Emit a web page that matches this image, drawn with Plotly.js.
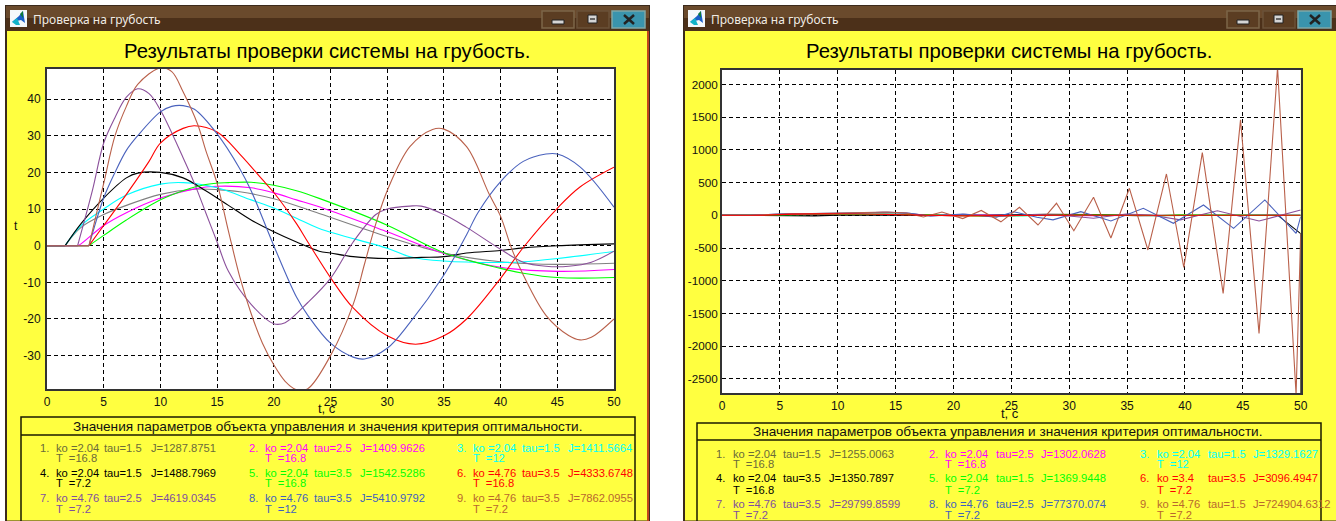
<!DOCTYPE html>
<html><head><meta charset="utf-8">
<script src="https://cdn.plot.ly/plotly-3.0.1.min.js"></script>
<style>html,body{margin:0;padding:0;background:#fff;overflow:hidden}#c{width:1336px;height:521px}</style>
</head><body><div id="c"></div>
<script>
// ---------- Left chart data ----------
const L1x=[0,1.6,3,5,7,10,13,15,17,20,24,30,35,40,45,50];
const L1y=[0,0,5,8.5,11,14,15.4,15.3,14.7,12.8,8.8,2.5,-2,-4.4,-5.1,-4.8];
const L2x=[0,2.7,3,5,7,10,13,15,18,20,22,24,30,35,40,45,50];
const L2y=[0,0,0.5,5.5,9,13,15.5,16.2,15.8,14.4,12.5,10.6,3.8,-2.1,-5.9,-7,-6.5];
const L3x=[0,1.6,3,5,7,10,12,15,18,20,22,24,30,32,35,40,42,45,50];
const L3y=[0,0,5.5,10,13.8,16.8,17.2,15.8,12.5,10.3,7.5,4.7,-0.7,-3,-4.2,-4.6,-4.4,-3.5,-1.6];
const L4x=[0,1.6,3,5,7,8,10,12,14,16,18,20,22,24,25,27,30,33,35,37,40,42,45,50];
const L4y=[0,0,6,13,18.5,19.8,20,18.5,15,11,7,3.8,1,-1.5,-2,-3,-3.5,-3.2,-3,-2,-1.3,-0.6,0,0.5];
const L5x=[0,3.7,5,7,10,12,14,16,18,20,22,24,30,35,40,42,45,50];
const L5y=[0,0,2.8,7,12.5,15,16.7,17.2,17.3,16.5,15,12.9,5.6,-1.9,-6.2,-7.5,-8.7,-8.7];
const L6x=[0,3.7,5,7,9,10,12,13,15,17,19,20,22,23,25,27,30,32.5,35,37,40,42,45,47,50];
const L6y=[0,0,5.5,14,23,28,32,32.7,31,25,18,14.5,6,1,-8.7,-17,-24.6,-26.9,-24.6,-20,-8.9,-0.5,10.2,16,21.4];
const L7x=[0,2.7,4,5,6,7,8,9,10,12,13,14,15,16,18,20,21,23,25,27,29,30,32,33,35,37,40,42,44,46,48,50];
const L7y=[0,0,15,28,35,40.5,42.8,41.5,37,24,17,9,1,-7,-16,-21.3,-21,-15.5,-8.9,1,8.5,10,10.8,10.8,8.5,5,-1,-4.5,-5.6,-5.6,-4.5,-1.5];
const L8x=[0,3.7,5,6,7,8,10,11,12,13,15,17,18,20,22,23,25,27,28,30,32,35,37,38,40,42,44,45,47,50];
const L8y=[0,0,13,20,26,30,36.5,38,38.2,37.2,30.5,21,15,0,-14,-19,-26.6,-30.4,-30.9,-28,-21,-8,3,9,17.5,23,25,25,21.5,10.5];
const L9x=[0,3.7,4,5,6,7,8,10,11,12,13.3,14,15,16,17,18,19,20,21,22,23,25,27,28,29,30,32,34,35,37,39,40,41,42,44,46,47,48,50];
const L9y=[0,0,4,17,30,38,44,48.5,47.5,42,33,26,17,4,-8.5,-18.5,-26.6,-32.5,-37,-39.3,-39,-30,-16,-5,6,15,27,31.7,31.8,27,14,8,-1,-8,-19,-24.5,-25.7,-25,-20];
// ---------- Right chart data ----------
const R1x=[0,2.4,5,8,11,14,17,20,23,26,29,32,35,38,41,44,47,50];
const R1y=[0,0,8,14,15,14,9,4,1,-2,-3,-3,-3,-2,-1,-1,0,0];
const R2x=[0,3,5,8,11,14,17,20,23,26,29,32,35,38,41,44,47,50];
const R2y=[0,0,6,12,15,16,12,6,2,-3,-4,-4,-3,-2,-1,0,0,0];
const R3x=[0,2.4,5,8,11,14,17,20,23,26,29,32,35,38,41,44,47,50];
const R3y=[0,0,10,16,17,15,8,0,-6,-6,-2,3,3,0,-2,-2,0,1];
const R4x=[0,5,8,10,14,17,20,25.5,28,32,36,40,44,48,50,50];
const R4y=[0,-6,-8,0,8,4,-6,15,15,10,-4,-3,2,2,-280,-2717];
const R5x=[0,2.4,5,8,11,14,17,20,23,26,29,32,35,38,39.5,41,44,47,50];
const R5y=[0,0,6,12,18,20,10,-5,-14,-5,8,8,0,-4,6,6,-4,-2,0];
const R7x=[0,2.4,5.5,9,13.9,16,18,21,24.3,27,29,32.1,34.9,37,39.6,42.8,46.4,50];
const R7y=[0,0,25,20,45,35,-10,15,-15,10,5,-45,20,5,-70,70,-87,80];
const R8x=[0,2.4,5,10.4,14.5,16.2,18,20.8,23.7,25.2,27.2,28.6,31,33.6,36.4,39,41.6,44.2,46.9,49.6,50];
const R8y=[0,0,20,30,45,30,-10,20,-30,55,-30,-70,56,-87,107,-122,158,-200,235,-275,-20];
const R9x=[0,2.4,5,10.4,12.9,14.3,15.9,17.4,19,20.8,22.4,24.1,25.7,27.3,28.9,30.4,32.1,33.6,35.2,36.8,38.4,39.9,41.5,43.3,44.8,46.4,48,49.6,50];
const R9y=[0,0,15,30,40,50,35,-25,50,-50,75,-100,122,-148,184,-235,275,-347,413,-530,632,-796,959,-1193,1459,-1805,2260,-2740,-280];
const R6x=[0,3.7,6,9,12,15,18,21,24,27,30,35,40,45,50];
const R6y=[0,0,18,25,20,10,-5,-8,-5,2,3,0,0,0,0];
// ---------- Text and ticks ----------
const windowTitle="Проверка на грубость";
const mainTitle="Результаты проверки системы на грубость.";
const tableTitle="Значения параметров объекта управления и значения критерия оптимальности.";
const xLabel="t, c";
const yLabel="t";
const xTicks=[0,5,10,15,20,25,30,35,40,45,50];
const leftYTicks=[-30,-20,-10,0,10,20,30,40];
const rightYTicks=[-2500,-2000,-1500,-1000,-500,0,500,1000,1500,2000];
const seriesColors=["#808080","#ff00ff","#00ffff","#000000","#00ff00","#ff0000","#8b509b","#4a62bd","#b9604a"];
const textColors=["#6b6b3a","#ff00ff","#00ffff","#000000","#00ff00","#ff0000","#7f4f9f","#3f5fbf","#b8682e"];
const leftKo=["2.04","2.04","2.04","2.04","2.04","4.76","4.76","4.76","4.76"];
const leftTau=["1.5","2.5","1.5","1.5","3.5","3.5","2.5","3.5","3.5"];
const leftJ=["1287.8751","1409.9626","1411.5664","1488.7969","1542.5286","4333.6748","4619.0345","5410.9792","7862.0955"];
const leftT=["16.8","16.8","12","7.2","16.8","16.8","7.2","12","7.2"];
const rightKo=["2.04","2.04","2.04","2.04","2.04","3.4","4.76","4.76","4.76"];
const rightTau=["1.5","2.5","1.5","3.5","1.5","3.5","3.5","2.5","1.5"];
const rightJ=["1255.0063","1302.0628","1329.1627","1350.7897","1369.9448","3096.4947","29799.8599","77370.074","724904.6312"];
const rightT=["16.8","16.8","12","16.8","7.2","7.2","7.2","7.2","7.2"];

// ---------- Layout helpers ----------
const W=1336,H=521;
const px=x=>x/W, py=y=>1-y/H;
const rect=(x0,y0,x1,y1,fill,line,lw)=>({type:'rect',xref:'paper',yref:'paper',layer:'below',
  x0:px(x0),x1:px(x1),y0:py(y0),y1:py(y1),fillcolor:fill||'rgba(0,0,0,0)',line:{color:line||'rgba(0,0,0,0)',width:lw===undefined?(line?1:0):lw}});
const seg=(x0,y0,x1,y1,c,lw)=>({type:'line',xref:'paper',yref:'paper',layer:'below',
  x0:px(x0),x1:px(x1),y0:py(y0),y1:py(y1),line:{color:c,width:lw||1}});
const poly=(pts,fill)=>({type:'path',xref:'paper',yref:'paper',layer:'below',fillcolor:fill,line:{width:0},
  path:'M'+pts.map(p=>px(p[0])+','+py(p[1])).join('L')+'Z'});
const txt=(x,y,s,size,color,anchor,font)=>({xref:'paper',yref:'paper',x:px(x),y:py(y),text:s,showarrow:false,
  xanchor:anchor||'left',yanchor:'middle',borderpad:0,font:{size,color,family:font||'"Liberation Sans",Arial,sans-serif'}});

const shapes=[],annotations=[];
function win(x0,x1,btn,plot,box,textX,rows,ko,tau,J,T,titleX,titleY,tableY,xlabX,xlabY){
  shapes.push(rect(x0,5,x1,525,'#3b2a1c'));
  shapes.push(rect(x0+2,31,x1-3,520.5,'#ffff40'));
  if(x1<W) shapes.push(rect(x1-3,31,x1-1,525,'#c2461c'));
  shapes.push(rect(x0+1,6,x1-1,18,'#6a4a2c'));
  shapes.push(rect(x0+1,18,x1-1,31,'#4c3019'));
  // icon
  shapes.push(rect(x0+5,10,x0+22,27,'#f4f8fb'));
  shapes.push(poly([[x0+7,22],[x0+14,16],[x0+18,11],[x0+20,23],[x0+16,20]],'#1a5fc8'));
  shapes.push(poly([[x0+7,22],[x0+12,18],[x0+15,25],[x0+11,25]],'#12b3c9'));
  shapes.push(poly([[x0+15,14],[x0+18,11],[x0+18,18]],'#0c7a3c'));
  annotations.push(txt(x0+27,20,windowTitle,12,'#f0ebe3','left','"Noto Sans",sans-serif'));
  // window buttons
  shapes.push(rect(btn[0],11,btn[0]+32,28,'#5b3d22','#7c6548',1.5));
  shapes.push(rect(btn[0]+10,20,btn[0]+22,24,'#d5d5d5','#222',1));
  shapes.push(rect(btn[1],11,btn[1]+32,28,'#5b3d22','#6b5238',1.5));
  shapes.push(rect(btn[1]+11,15,btn[1]+20,23,'#d5d5d5','#222',1));
  shapes.push(rect(btn[1]+13,18,btn[1]+18,20,'#666'));
  shapes.push(rect(btn[2],11,btn[2]+33,28,'#3a94ad','#7fa8a8',1.5));
  shapes.push(seg(btn[2]+12,15,btn[2]+22,24,'#222',2.5));
  shapes.push(seg(btn[2]+22,15,btn[2]+12,24,'#222',2.5));
  // plot area
  shapes.push(rect(plot[0],plot[2],plot[1],plot[3],'#ffffff'));
  // table
  shapes.push(rect(box[0],box[1],box[2],530,null,'#1a1a00',1.5));
  shapes.push(seg(box[0],box[3],box[2],box[3],'#1a1a00',1.5));
  annotations.push(txt(titleX,titleY,mainTitle,20.3,'#000','center'));
  annotations.push(txt((box[0]+box[2])/2-1,tableY,tableTitle,13.6,'#111','center'));
  annotations.push(txt(xlabX,xlabY,xLabel,13,'#111','center'));
  const fs=11.2;
  for(let i=0;i<9;i++){
    const c=i%3,r=Math.floor(i/3),X=textX[c],col=textColors[i];
    annotations.push(txt(X[0],rows[r][0],(i+1)+'.',fs,col));
    annotations.push(txt(X[1],rows[r][0],'ko ='+ko[i],fs,col));
    annotations.push(txt(X[2],rows[r][0],'tau='+tau[i],fs,col));
    annotations.push(txt(X[3],rows[r][0],'J='+J[i],fs,col));
    annotations.push(txt(X[1],rows[r][1],'T  ='+T[i],fs,col));
  }
}
const plotL=[47,614,69,389], plotR=[722,1300.7,70,393];
win(5,650,[542,577,612],plotL,[21,417,635,435],
  [[39,55,103,150],[248,264,313,359],[456,472,521,567]],
  [[448,458],[473,483],[498,509]],leftKo,leftTau,leftJ,leftT,327,51,426,327,408);
win(683,1340,[1227,1263,1298],plotR,[697,423,1321,440],
  [[715,732,782,828],[928,944,995,1040],[1139,1156,1207,1252]],
  [[454,464],[478,490],[504,515]],rightKo,rightTau,rightJ,rightT,1009,51,431,1010,413);
annotations.push(txt(16,226,yLabel,12,'#111','center'));

const tr=(x,y,c,xa,ya,shape)=>({x,y,type:'scatter',mode:'lines',xaxis:xa,yaxis:ya,hoverinfo:'skip',
  line:{color:c,width:1.1,shape:shape||'linear',smoothing:1.0}});
const C=seriesColors;
const leftSeries=[[L1x,L1y,0],[L2x,L2y,1],[L3x,L3y,2],[L4x,L4y,3],[L5x,L5y,4],[L6x,L6y,5],[L7x,L7y,6],[L8x,L8y,7],[L9x,L9y,8]];
const traces=[];
// the response stays flat until its delay, then rises: flat part straight, the rest smoothed
leftSeries.forEach(a=>traces.push(tr(a[0].slice(1),a[1].slice(1),C[a[2]],'x','y','spline')));
leftSeries.forEach(a=>traces.push(tr(a[0].slice(0,2),a[1].slice(0,2),C[a[2]],'x','y')));
[[R1x,R1y,0],[R2x,R2y,1],[R3x,R3y,2],[R4x,R4y,3],[R5x,R5y,4],[R7x,R7y,6],[R8x,R8y,7],[R9x,R9y,8],[R6x,R6y,5]]
  .forEach(a=>traces.push(tr(a[0],a[1],C[a[2]],'x2','y2')));

const axisBase={showline:true,mirror:true,linecolor:'#333',linewidth:2,showgrid:true,gridcolor:'#000',gridwidth:1,griddash:'4px,3px',
  zeroline:false,ticks:'',tickfont:{size:12,color:'#111',family:'"Liberation Sans",Arial,sans-serif'},tickmode:'array'};
const layout={width:W,height:H,margin:{l:0,r:0,t:0,b:0,pad:0},paper_bgcolor:'#ffffff',plot_bgcolor:'rgba(0,0,0,0)',showlegend:false,
  shapes,annotations,
  xaxis:{...axisBase,anchor:'y',domain:[px(plotL[0]),px(plotL[1])],range:[0,50],tickvals:xTicks,ticktext:xTicks.map(String),ticklabelstandoff:1},
  yaxis:{...axisBase,anchor:'x',domain:[py(plotL[3]),py(plotL[2])],range:[-39.1,48.2],tickvals:leftYTicks,ticktext:leftYTicks.map(String),ticklabelstandoff:2},
  xaxis2:{...axisBase,anchor:'y2',domain:[px(plotR[0]),px(plotR[1])],range:[0,50],tickvals:xTicks,ticktext:xTicks.map(String),ticklabelstandoff:1},
  yaxis2:{...axisBase,anchor:'x2',domain:[py(plotR[3]),py(plotR[2])],range:[-2717,2222],tickvals:rightYTicks,ticktext:rightYTicks.map(String),ticklabelstandoff:0,tickfont:{size:11.7,color:'#111',family:'"Liberation Sans",Arial,sans-serif'}}
};
Plotly.newPlot('c',traces,layout,{displayModeBar:false,staticPlot:true});
</script></body></html>
